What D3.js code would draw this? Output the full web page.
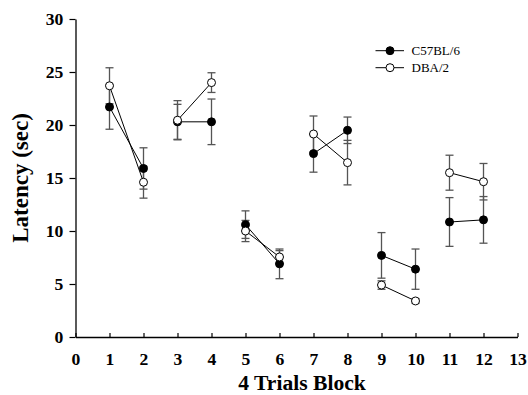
<!DOCTYPE html>
<html><head><meta charset="utf-8">
<script src="https://cdn.jsdelivr.net/npm/d3@7"></script>
<style>body{margin:0;background:#fff}</style>
</head><body>
<script>
const blocks = [1,2,3,4,5,6,7,8,9,10,11,12];
const c57Mean = [21.7, 15.9, 20.3, 20.3, 10.6, 6.9, 17.3, 19.5, 7.7, 6.4, 10.85, 11.05];
const c57Err  = [2.1, 1.95, 1.65, 2.15, 1.3, 1.4, 1.75, 1.25, 2.15, 1.9, 2.3, 2.2];
const dbaMean = [23.7, 14.6, 20.45, 24.0, 10.0, 7.55, 19.15, 16.45, 4.9, 3.4, 15.5, 14.65];
const dbaErr  = [1.7, 1.5, 1.85, 0.93, 1.0, 0.6, 1.7, 2.1, 0.4, 0.2, 1.65, 1.72];
const xTicks = [0,1,2,3,4,5,6,7,8,9,10,11,12,13];
const yTicks = [0,5,10,15,20,25,30];
const seriesNames = ["C57BL/6", "DBA/2"];

const W = 528, H = 395;
const m = {left: 75.5, right: 10.5, top: 19, bottom: 58};
const svg = d3.select("body").append("svg").attr("width", W).attr("height", H);
const x = d3.scaleLinear().domain([0,13]).range([m.left, W - m.right]);
const y = d3.scaleLinear().domain([0,30]).range([H - m.bottom, m.top]);
const serif = "'Liberation Serif','Times New Roman',serif";

// axes
const gx = svg.append("g").attr("transform", `translate(0,${y(0)})`)
  .call(d3.axisBottom(x).tickValues(xTicks).tickFormat(d3.format("d")).tickSizeInner(-4).tickSizeOuter(0).tickPadding(17));
const gy = svg.append("g").attr("transform", `translate(${x(0)},0)`)
  .call(d3.axisLeft(y).tickValues(yTicks).tickSizeInner(6).tickSizeOuter(0).tickPadding(5));
[gx, gy].forEach(g => {
  g.select(".domain").attr("stroke", "#000").attr("stroke-width", 1.3);
  g.selectAll(".tick line").attr("stroke", "#000").attr("stroke-width", 1.2);
  g.selectAll(".tick text").attr("fill", "#000").style("font-family", serif)
    .style("font-weight", "bold").style("font-size", "16px")
    .attr("transform", "scale(1.1,1)");
});
gy.selectAll(".tick text").attr("dy", "0.36em");

// titles
svg.append("text").attr("transform", "translate(302,390) scale(1.08,1)").attr("text-anchor", "middle")
  .style("font-family", serif).style("font-weight", "bold").style("font-size", "20px")
  .text("4 Trials Block");
svg.append("text").attr("transform", `translate(28,178) rotate(-90)`).attr("text-anchor", "middle")
  .style("font-family", serif).style("font-weight", "bold").style("font-size", "23px")
  .text("Latency (sec)");

const series = [
  {name: seriesNames[0], mean: c57Mean, err: c57Err, fill: "#000"},
  {name: seriesNames[1], mean: dbaMean, err: dbaErr, fill: "#fff"}
];

// error bars
series.forEach(s => {
  const g = svg.append("g").attr("stroke", "#555").attr("stroke-width", 1.3);
  blocks.forEach((b, i) => {
    const hi = s.mean[i] + s.err[i], lo = s.mean[i] - s.err[i];
    g.append("line").attr("x1", x(b)).attr("x2", x(b)).attr("y1", y(hi)).attr("y2", y(lo));
    g.append("line").attr("x1", x(b) - 4).attr("x2", x(b) + 4).attr("y1", y(hi)).attr("y2", y(hi));
    g.append("line").attr("x1", x(b) - 4).attr("x2", x(b) + 4).attr("y1", y(lo)).attr("y2", y(lo));
  });
});

// connecting lines (pairs)
const line = d3.line().x(d => x(d[0])).y(d => y(d[1]));
series.forEach(s => {
  for (let i = 0; i < blocks.length; i += 2) {
    svg.append("path")
      .attr("d", line([[blocks[i], s.mean[i]], [blocks[i+1], s.mean[i+1]]]))
      .attr("fill", "none").attr("stroke", "#000").attr("stroke-width", 1);
  }
});

// markers
series.forEach(s => {
  svg.append("g").selectAll("circle").data(blocks).join("circle")
    .attr("cx", d => x(d)).attr("cy", (d, i) => y(s.mean[i])).attr("r", 4)
    .attr("fill", s.fill).attr("stroke", "#000").attr("stroke-width", 1);
});

// legend
const leg = svg.append("g");
series.forEach((s, i) => {
  const ly = 50.7 + i * 17;
  leg.append("line").attr("x1", 375.5).attr("x2", 404).attr("y1", ly).attr("y2", ly)
    .attr("stroke", "#000").attr("stroke-width", 1);
  leg.append("circle").attr("cx", 390).attr("cy", ly).attr("r", 4)
    .attr("fill", s.fill).attr("stroke", "#000").attr("stroke-width", 1);
  leg.append("text").attr("x", 411.5).attr("y", ly).attr("dy", "0.35em")
    .style("font-family", serif).style("font-size", "13px").text(s.name);
});
</script>
</body></html>
